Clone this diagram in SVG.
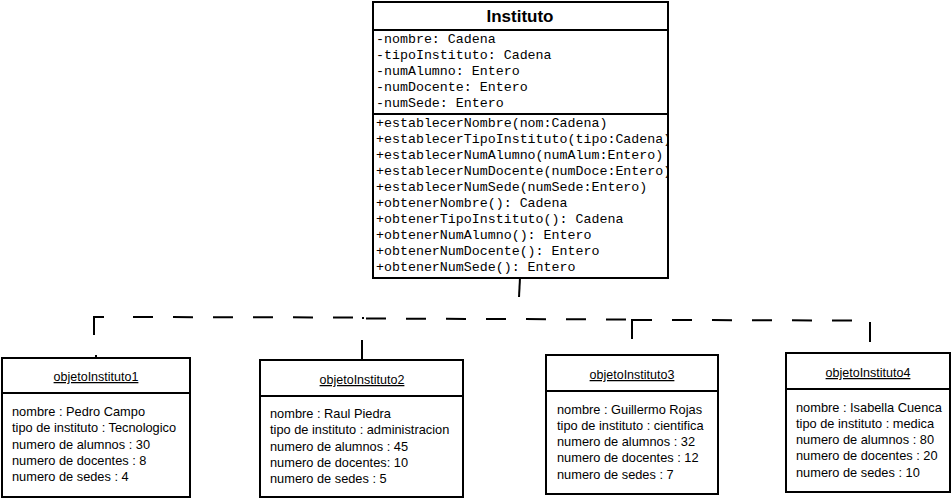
<svg xmlns="http://www.w3.org/2000/svg" width="951" height="500" viewBox="0 0 951 500">
  <style>
    .box { fill: #ffffff; stroke: #000000; stroke-width: 2; }
    .sep { stroke: #000000; stroke-width: 2; }
    .title { font-family: "Liberation Sans", Arial, sans-serif; font-weight: bold; font-size: 17px; fill: #000; }
    .mono { font-family: "Liberation Mono", "Courier New", monospace; font-size: 13.3px; fill: #000; }
    .oname { font-family: "Liberation Sans", Arial, sans-serif; font-size: 12.5px; fill: #000; text-decoration: underline; }
    .attr { font-family: "Liberation Sans", Arial, sans-serif; font-size: 12.8px; fill: #000; }
    .link { fill: none; stroke: #000000; stroke-width: 2; }
    .dash { fill: none; stroke: #000000; stroke-width: 2; stroke-dasharray: 20 20; }
  </style>
  <defs>
    <clipPath id="clsClip">
      <rect x="374" y="3" width="293" height="274"/>
    </clipPath>
  </defs>

  <rect width="951" height="500" fill="#ffffff"/>

  <!-- class Instituto -->
  <g id="instituto">
    <rect class="box" x="373" y="2" width="295" height="276"/>
    <line class="sep" x1="373" y1="30" x2="668" y2="30"/>
    <line class="sep" x1="373" y1="114" x2="668" y2="114"/>
    <text class="title" x="520" y="22" text-anchor="middle">Instituto</text>
    <g class="mono" clip-path="url(#clsClip)">
      <text x="376" y="43">-nombre: Cadena</text>
      <text x="376" y="59">-tipoInstituto: Cadena</text>
      <text x="376" y="75">-numAlumno: Entero</text>
      <text x="376" y="91">-numDocente: Entero</text>
      <text x="376" y="107">-numSede: Entero</text>
      <text x="376" y="127">+establecerNombre(nom:Cadena)</text>
      <text x="376" y="143">+establecerTipoInstituto(tipo:Cadena)</text>
      <text x="376" y="159">+establecerNumAlumno(numAlum:Entero)</text>
      <text x="376" y="175">+establecerNumDocente(numDoce:Entero)</text>
      <text x="376" y="191">+establecerNumSede(numSede:Entero)</text>
      <text x="376" y="207">+obtenerNombre(): Cadena</text>
      <text x="376" y="223">+obtenerTipoInstituto(): Cadena</text>
      <text x="376" y="239">+obtenerNumAlumno(): Entero</text>
      <text x="376" y="255">+obtenerNumDocente(): Entero</text>
      <text x="376" y="271">+obtenerNumSede(): Entero</text>
    </g>
  </g>

  <!-- connectors -->
  <g id="connectors">
    <line class="link" x1="520" y1="278" x2="519" y2="297"/>
    <path class="link" d="M94,335 V317 H104"/>
    <line class="dash" x1="133" y1="317" x2="353" y2="317.5"/>
    <rect x="362" y="317" width="2" height="2" fill="#000"/>
    <line class="dash" x1="366" y1="318.5" x2="626" y2="319.5"/>
    <path class="link" d="M632,339 V320 H652"/>
    <line class="dash" x1="672" y1="320" x2="852" y2="320.5"/>
    <line class="link" x1="870" y1="322" x2="870" y2="342"/>
    <line class="link" x1="362" y1="340" x2="362" y2="360"/>
    <rect x="95" y="355" width="2" height="2" fill="#000"/>
  </g>

  <!-- object 1 -->
  <g id="objetoInstituto1">
    <rect class="box" x="2" y="358" width="188" height="139"/>
    <line class="sep" x1="2" y1="393" x2="190" y2="393"/>
    <text class="oname" x="96" y="381" text-anchor="middle">objetoInstituto1</text>
    <g class="attr">
      <text x="12" y="416">nombre : Pedro Campo</text>
      <text x="12" y="432">tipo de instituto : Tecnologico</text>
      <text x="12" y="448.5">numero de alumnos : 30</text>
      <text x="12" y="465">numero de docentes : 8</text>
      <text x="12" y="481">numero de sedes : 4</text>
    </g>
  </g>

  <!-- object 2 -->
  <g id="objetoInstituto2">
    <rect class="box" x="260" y="360" width="203" height="137"/>
    <line class="sep" x1="260" y1="396" x2="463" y2="396"/>
    <text class="oname" x="362" y="384" text-anchor="middle">objetoInstituto2</text>
    <g class="attr">
      <text x="270" y="418">nombre : Raul Piedra</text>
      <text x="270" y="434">tipo de instituto : administracion</text>
      <text x="270" y="451">numero de alumnos : 45</text>
      <text x="270" y="467">numero de docentes: 10</text>
      <text x="270" y="483">numero de sedes : 5</text>
    </g>
  </g>

  <!-- object 3 -->
  <g id="objetoInstituto3">
    <rect class="box" x="546" y="355" width="172" height="139"/>
    <line class="sep" x1="546" y1="391" x2="718" y2="391"/>
    <text class="oname" x="632" y="379" text-anchor="middle">objetoInstituto3</text>
    <g class="attr">
      <text x="557" y="414">nombre : Guillermo Rojas</text>
      <text x="557" y="430">tipo de instituto : cientifica</text>
      <text x="557" y="446">numero de alumnos : 32</text>
      <text x="557" y="462">numero de docentes : 12</text>
      <text x="557" y="479">numero de sedes : 7</text>
    </g>
  </g>

  <!-- object 4 -->
  <g id="objetoInstituto4">
    <rect class="box" x="786" y="353" width="164" height="139"/>
    <line class="sep" x1="786" y1="389" x2="950" y2="389"/>
    <text class="oname" x="868" y="377" text-anchor="middle">objetoInstituto4</text>
    <g class="attr">
      <text x="796" y="412">nombre : Isabella Cuenca</text>
      <text x="796" y="428">tipo de instituto : medica</text>
      <text x="796" y="444">numero de alumnos : 80</text>
      <text x="796" y="460">numero de docentes : 20</text>
      <text x="796" y="477">numero de sedes : 10</text>
    </g>
  </g>
</svg>
